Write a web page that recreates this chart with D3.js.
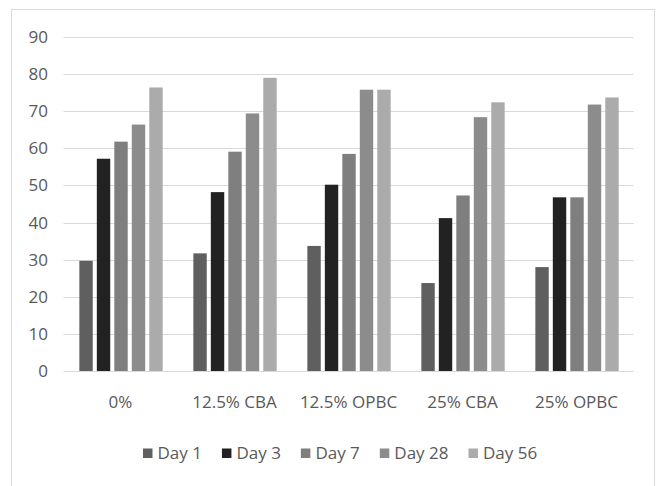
<!DOCTYPE html>
<html><head><meta charset="utf-8">
<script src="https://cdn.jsdelivr.net/npm/d3@7"></script>
<style>body{margin:0;background:#fff}svg{display:block}text{font-family:"Open Sans",sans-serif;fill:#595959}</style>
</head><body><svg id="c" width="658" height="486"></svg>
<script>
const categories = ["0%", "12.5% CBA", "12.5% OPBC", "25% CBA", "25% OPBC"];
const seriesNames = ["Day 1", "Day 3", "Day 7", "Day 28", "Day 56"];
const day1  = [29.7, 31.7, 33.7, 23.7, 28.0];
const day3  = [57.2, 48.2, 50.2, 41.2, 46.8];
const day7  = [61.8, 59.1, 58.5, 47.3, 46.8];
const day28 = [66.4, 69.4, 75.8, 68.4, 71.8];
const day56 = [76.4, 79.0, 75.8, 72.4, 73.7];
const yTicks = [0, 10, 20, 30, 40, 50, 60, 70, 80, 90];
const colors = ["#5f5f5f", "#222222", "#7f7f7f", "#8c8c8c", "#ababab"];

const series = [day1, day3, day7, day28, day56];
const svg = d3.select("#c");
// outer border
svg.append("rect").attr("x", 11.5).attr("y", 9.5).attr("width", 643).attr("height", 490)
  .attr("fill", "none").attr("stroke", "#d9d9d9").attr("stroke-width", 1);

const plotL = 63.5, plotR = 633.5, plotT = 37, plotB = 371;
const y = d3.scaleLinear().domain([0, 90]).range([plotB, plotT]);
const x0 = d3.scaleBand().domain(categories).range([plotL, plotR]).padding(0);
const bw = x0.bandwidth();
const x1 = d3.scaleBand().domain(d3.range(seriesNames.length))
  .range([bw * 0.139, bw * 0.870]).paddingInner(0.234).paddingOuter(0);

// gridlines
svg.append("g").selectAll("line").data(yTicks).join("line")
  .attr("x1", plotL).attr("x2", plotR)
  .attr("y1", d => Math.round(y(d)) + 0.5).attr("y2", d => Math.round(y(d)) + 0.5)
  .attr("stroke", "#d9d9d9").attr("stroke-width", 1);

// y labels
svg.append("g").selectAll("text").data(yTicks).join("text")
  .attr("x", 48).attr("y", d => y(d)).attr("dy", "0.35em")
  .attr("text-anchor", "end").attr("font-size", 17).text(d => d);

// bars
const groups = svg.append("g").selectAll("g").data(categories).join("g")
  .attr("transform", c => `translate(${x0(c)},0)`);
groups.selectAll("rect").data((c, ci) => series.map((s, si) => ({si, v: s[ci]}))).join("rect")
  .attr("x", d => x1(d.si)).attr("width", x1.bandwidth())
  .attr("y", d => y(d.v)).attr("height", d => y(0) - y(d.v))
  .attr("fill", d => colors[d.si]);

// category labels
svg.append("g").selectAll("text").data(categories).join("text")
  .attr("x", c => x0(c) + bw / 2).attr("y", 402).attr("dy", "0.35em")
  .attr("text-anchor", "middle").attr("font-size", 17).text(c => c);

// legend
const lg = svg.append("g");
let lx = 143;
seriesNames.forEach((n, i) => {
  lg.append("rect").attr("x", lx).attr("y", 448.5).attr("width", 9.5).attr("height", 9.5).attr("fill", colors[i]);
  const t = lg.append("text").attr("x", lx + 14.5).attr("y", 453.5).attr("dy", "0.35em")
    .attr("font-size", 17).text(n);
  lx += 14.5 + t.node().getComputedTextLength() + 20;
});
</script></body></html>
